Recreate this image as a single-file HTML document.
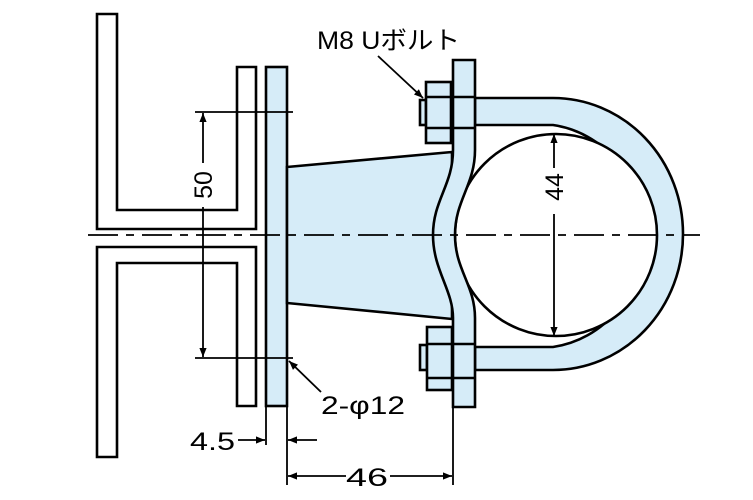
<!DOCTYPE html>
<html><head><meta charset="utf-8"><style>html,body{margin:0;padding:0;background:#fff}svg{display:block}</style></head><body>
<svg width="753" height="500" viewBox="0 0 753 500" xmlns="http://www.w3.org/2000/svg" font-family="Liberation Sans, Noto Sans CJK JP, sans-serif">
<defs><marker id="a" viewBox="0 0 10 10" refX="10" refY="5" markerWidth="11" markerHeight="9" orient="auto-start-reverse" markerUnits="userSpaceOnUse"><path d="M0,1 L10,5 L0,9z" fill="#000"/></marker></defs>
<g fill="none" stroke="#000" stroke-width="2.6">
<path d="M97,14 H117 V210 H237 V67 H256 V229 H97 Z" fill="#fff"/>
<path d="M97,457 H117 V263 H237 V406 H256 V247 H97 Z" fill="#fff"/>
<rect x="266" y="67" width="21" height="339" fill="#d6ecf8"/>
<path d="M287,167 L452,152 L452,319 L287,303 Z" fill="#d6ecf8"/>
<path d="M475,98 H553 A130,136 0 0 1 553,370 H475 V347 H553 A105,112 0 0 0 553,125 H475 Z" fill="#d6ecf8"/>
<circle cx="556" cy="235" r="101" fill="#fff"/>
<path d="M453,60 H475 V150 C475,185 455,200 455,235 C455,270 475,285 475,318 V407 H453 V318 C453,290 433,270 433,235 C433,200 453,185 453,150 Z" fill="#d6ecf8"/>
<rect x="420" y="100" width="6" height="25" fill="#d6ecf8"/>
<rect x="426" y="82" width="25" height="61" fill="#d6ecf8"/>
<line x1="426" y1="97" x2="475" y2="97"/><line x1="426" y1="128" x2="475" y2="128"/>
<rect x="420" y="345" width="7" height="25" fill="#d6ecf8"/>
<rect x="427" y="327" width="25" height="63" fill="#d6ecf8"/>
<line x1="427" y1="344" x2="475" y2="344"/><line x1="427" y1="378" x2="475" y2="378"/>
</g>
<g stroke="#000" stroke-width="1.8" fill="none">
<line x1="88" y1="235" x2="700" y2="235" stroke-dasharray="30,8,8,8"/>
<line x1="195" y1="112" x2="293" y2="112"/><line x1="195" y1="358" x2="293" y2="358"/>
<line x1="203" y1="163" x2="203" y2="113" marker-end="url(#a)"/>
<line x1="203" y1="207" x2="203" y2="357" marker-end="url(#a)"/>
<line x1="554" y1="168" x2="554" y2="134" marker-end="url(#a)"/>
<line x1="554" y1="214" x2="554" y2="336" marker-end="url(#a)"/>
<line x1="266" y1="407" x2="266" y2="445"/><line x1="287" y1="407" x2="287" y2="485"/><line x1="453" y1="407" x2="453" y2="485"/>
<line x1="238" y1="440" x2="265" y2="440" marker-end="url(#a)"/>
<line x1="317" y1="440" x2="288" y2="440" marker-end="url(#a)"/>
<line x1="346" y1="476" x2="288" y2="476" marker-end="url(#a)"/>
<line x1="390" y1="476" x2="452" y2="476" marker-end="url(#a)"/>
<line x1="321" y1="392" x2="289" y2="361" marker-end="url(#a)"/>
<line x1="378" y1="56" x2="423" y2="98" marker-end="url(#a)"/>
</g>
<g font-size="25" fill="#000">
<text x="317" y="49" textLength="143" lengthAdjust="spacingAndGlyphs">M8 Uボルト</text>
<text x="321" y="414" textLength="84" lengthAdjust="spacingAndGlyphs">2-φ12</text>
<text x="190" y="450" textLength="45" lengthAdjust="spacingAndGlyphs">4.5</text>
<text x="346" y="486" textLength="42" lengthAdjust="spacingAndGlyphs">46</text>
<text transform="translate(212,185) rotate(-90)" text-anchor="middle">50</text>
<text transform="translate(563,187) rotate(-90)" text-anchor="middle">44</text>
</g>
</svg>
</body></html>
